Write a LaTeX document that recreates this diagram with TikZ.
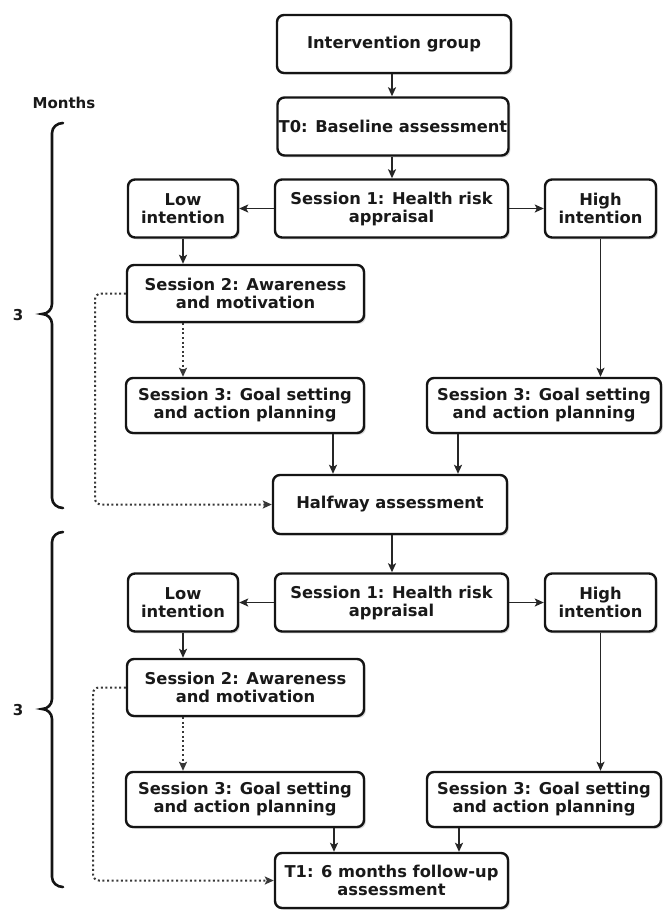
\documentclass[tikz,border=0pt]{standalone}
\usepackage{fontspec}
\setmainfont{DejaVu Sans}
\usetikzlibrary{arrows.meta,shadows,calc}
\begin{document}
\begin{tikzpicture}[x=1pt,y=-1pt,
  box/.style={draw=black!92, line width=2.4pt, rounded corners=7pt, fill=white, align=center,
    font=\bfseries\fontsize{16.3}{18}\selectfont, text=black!90, inner sep=0pt,
    drop shadow={shadow xshift=1.8pt, shadow yshift=-1.8pt, opacity=0.22, fill=black!70}},
  arr/.style={line width=1.5pt, draw=black!85, -{Stealth[length=9pt,width=8pt,inset=2pt]}},
  dotarr/.style={line width=2pt, draw=black!78, dash pattern=on 2pt off 2.6pt, rounded corners=6pt, -{Stealth[length=9pt,width=8pt,inset=2pt]}},
  brace/.style={line width=2.6pt, line cap=round, draw=black!92},
  lbl/.style={font=\bfseries\fontsize{15}{17}\selectfont, text=black!90, inner sep=0pt}]
\useasboundingbox (0,0) rectangle (663,911);

% ---------- first half ----------
\node[box, minimum width=234pt, minimum height=58pt] (ig) at (394,44) {Intervention group};
\node[box, minimum width=231pt, minimum height=58pt] (t0) at (393,126.5) {T0: Baseline assessment};
\node[box, minimum width=233pt, minimum height=58pt] (s1a) at (391.5,208.5) {Session 1: Health risk\\appraisal};
\node[box, minimum width=110pt, minimum height=58pt] (lowa) at (183,208.5) {Low\\intention};
\node[box, minimum width=111pt, minimum height=58pt] (higha) at (600.5,208.5) {High\\intention};
\node[box, minimum width=237pt, minimum height=57pt] (s2a) at (245.5,293.5) {Session 2: Awareness\\and motivation};
\node[box, minimum width=238pt, minimum height=55pt] (s3la) at (245,405.5) {Session 3: Goal setting\\and action planning};
\node[box, minimum width=234pt, minimum height=55pt] (s3ra) at (544,405.5) {Session 3: Goal setting\\and action planning};
\node[box, minimum width=234pt, minimum height=59pt] (half) at (390,504.5) {Halfway assessment};

% ---------- second half ----------
\node[box, minimum width=233pt, minimum height=58pt] (s1b) at (391.5,602.5) {Session 1: Health risk\\appraisal};
\node[box, minimum width=110pt, minimum height=58pt] (lowb) at (183,602.5) {Low\\intention};
\node[box, minimum width=111pt, minimum height=58pt] (highb) at (600.5,602.5) {High\\intention};
\node[box, minimum width=237pt, minimum height=57pt] (s2b) at (245.5,687.5) {Session 2: Awareness\\and motivation};
\node[box, minimum width=238pt, minimum height=55pt] (s3lb) at (245,799.5) {Session 3: Goal setting\\and action planning};
\node[box, minimum width=234pt, minimum height=55pt] (s3rb) at (544,799.5) {Session 3: Goal setting\\and action planning};
\node[box, minimum width=233pt, minimum height=55pt] (t1) at (391.5,880.5) {T1: 6 months follow-up\\assessment};

% ---------- labels ----------
\node[lbl] (months) at (64,103) {Months};
\node[lbl] (n3a) at (18,315) {3};
\node[lbl] (n3b) at (18,710) {3};

% ---------- braces ----------
\draw[brace] (63,123) to[out=180,in=90] (52,133) -- (52,304) to[out=-90,in=0] (42,314)
  to[out=0,in=90] (52,324) -- (52,498) to[out=-90,in=180] (63,508);
\draw[brace] (63,532) to[out=180,in=90] (52,542) -- (52,699) to[out=-90,in=0] (42,709)
  to[out=0,in=90] (52,719) -- (52,877) to[out=-90,in=180] (63,887);

% ---------- connectors, first half ----------
\coordinate (dxa) at (95,0);
\coordinate (dxb) at (93,0);
\draw[arr] (ig.south -| 392,0) -- (t0.north -| 392,0);
\draw[arr] (t0.south -| 392,0) -- (s1a.north -| 392,0);
\draw[arr] (s1a.west) -- (lowa.east);
\draw[arr] (s1a.east) -- (higha.west);
\draw[arr] (lowa.south) -- (s2a.north -| lowa.south);
\draw[dotarr] (s2a.south -| lowa.south) -- (s3la.north -| lowa.south);
\draw[arr] (higha.south) -- (s3ra.north -| higha.south);
\draw[arr] (s3la.south -| 333,0) -- (half.north -| 333,0);
\draw[arr] (s3ra.south -| 458,0) -- (half.north -| 458,0);
\draw[dotarr] (s2a.west) -- (s2a.west -| dxa) |- (half.west);

% ---------- connectors, second half ----------
\draw[arr] (half.south -| 392,0) -- (s1b.north -| 392,0);
\draw[arr] (s1b.west) -- (lowb.east);
\draw[arr] (s1b.east) -- (highb.west);
\draw[arr] (lowb.south) -- (s2b.north -| lowb.south);
\draw[dotarr] (s2b.south -| lowb.south) -- (s3lb.north -| lowb.south);
\draw[arr] (highb.south) -- (s3rb.north -| highb.south);
\draw[arr] (s3lb.south -| 334,0) -- (t1.north -| 334,0);
\draw[arr] (s3rb.south -| 459,0) -- (t1.north -| 459,0);
\draw[dotarr] (s2b.west) -- (s2b.west -| dxb) |- (t1.west);
\end{tikzpicture}
\end{document}
